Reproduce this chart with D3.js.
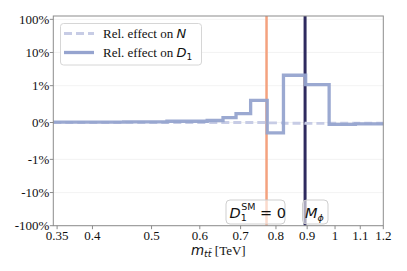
<!DOCTYPE html>
<html>
<head>
<meta charset="utf-8">
<script src="https://cdn.jsdelivr.net/npm/d3@7"></script>
<style>
  body { margin: 0; background: #fff; }
  svg { display: block; }
</style>
</head>
<body>
<div id="chart"></div>
<script>
// bin edges of m_tt (TeV) and relative effects (%) per bin
const binEdges = [0.345, 0.45, 0.53, 0.617, 0.655, 0.688, 0.727, 0.774, 0.823, 0.895, 0.978, 1.08, 1.2];
const effectD1 = [0.01, 0.02, 0.035, 0.055, 0.13, 0.24, 0.6, -0.28, 2.06, 1.07, -0.05, -0.035];
const effectN = [0.0, 0.0, 0.0, 0.0, 0.0, 0.0, 0.0, -0.01, -0.02, -0.025, -0.02, -0.02];
const xTicks = [0.35, 0.4, 0.5, 0.6, 0.7, 0.8, 0.9, 1, 1.1, 1.2];
const xTickLabels = ["0.35", "0.4", "0.5", "0.6", "0.7", "0.8", "0.9", "1", "1.1", "1.2"];
const yTicks = [-100, -10, -1, 0, 1, 10, 100];
const yTickLabels = ["-100%", "-10%", "-1%", "0%", "1%", "10%", "100%"];
const d1ZeroMass = 0.772;
const mPhi = 0.893;

(function() {
  const W = 407, H = 271;
  const margin = {top: 16, right: 23.7, bottom: 45.3, left: 53.3},
        width = W - margin.left - margin.right,
        height = H - margin.top - margin.bottom;
  const serif = '"Liberation Serif", "Times New Roman", serif';

  // matplotlib-like symlog, linthresh 1, linscale 1
  const linAdj = 1 / (1 - 1 / 10);
  const symlog = v => {
    const a = Math.abs(v);
    const t = a <= 1 ? a * linAdj : linAdj + Math.log10(a);
    return v < 0 ? -t : t;
  };

  const x = d3.scaleLog().domain([0.345, 1.2]).range([0, width]);
  const yLin = d3.scaleLinear().domain([symlog(-100), symlog(126)]).range([height, 0]);
  const y = v => yLin(symlog(v));

  const svg = d3.select('#chart').append('svg')
    .attr('width', W).attr('height', H);
  const g = svg.append('g')
    .attr('transform', `translate(${margin.left},${margin.top})`);

  // faint grid
  g.selectAll('.grid').data(yTicks).enter().append('line')
    .attr('x1', 0).attr('x2', width)
    .attr('y1', d => y(d)).attr('y2', d => y(d))
    .attr('stroke', '#f0f0f0').attr('stroke-width', 0.8);

  // step paths
  const stepPoints = vals => {
    const pts = [];
    vals.forEach((v, i) => {
      pts.push([binEdges[i], v]);
      pts.push([binEdges[i + 1], v]);
    });
    return pts;
  };
  const line = d3.line().x(d => x(d[0])).y(d => y(d[1]));

  // vertical reference lines
  g.append('line')
    .attr('x1', x(d1ZeroMass)).attr('x2', x(d1ZeroMass))
    .attr('y1', 0).attr('y2', height)
    .attr('stroke', '#f4a27f').attr('stroke-width', 2.5);
  g.append('line')
    .attr('x1', x(mPhi)).attr('x2', x(mPhi))
    .attr('y1', 0).attr('y2', height)
    .attr('stroke', '#2e2a5f').attr('stroke-width', 3);

  g.append('path')
    .attr('d', line(stepPoints(effectN)))
    .attr('fill', 'none')
    .attr('stroke', '#c7cce5')
    .attr('stroke-width', 2.8)
    .attr('stroke-dasharray', '8,4');

  g.append('path')
    .attr('d', line(stepPoints(effectD1)))
    .attr('fill', 'none')
    .attr('stroke', '#96a4cf')
    .attr('stroke-width', 3.3)
    .attr('stroke-opacity', 0.95);

  // frame
  g.append('rect')
    .attr('x', 0).attr('y', 0).attr('width', width).attr('height', height)
    .attr('fill', 'none').attr('stroke', '#8c8c8c').attr('stroke-width', 1);

  // x ticks
  xTicks.forEach((t, i) => {
    g.append('line')
      .attr('x1', x(t)).attr('x2', x(t))
      .attr('y1', height).attr('y2', height + 3.5)
      .attr('stroke', '#8c8c8c');
    g.append('text')
      .attr('x', x(t)).attr('y', height + 14)
      .attr('text-anchor', 'middle')
      .style('font-family', serif).style('font-size', '13px').style('fill', '#111')
      .text(xTickLabels[i]);
  });

  // y ticks
  yTicks.forEach((t, i) => {
    g.append('line')
      .attr('x1', -3.5).attr('x2', 0)
      .attr('y1', y(t)).attr('y2', y(t))
      .attr('stroke', '#8c8c8c');
    g.append('text')
      .attr('x', -4).attr('y', y(t) + 4.5)
      .attr('text-anchor', 'end')
      .style('font-family', serif).style('font-size', '13px').style('fill', '#111')
      .text(yTickLabels[i]);
  });

  // x label
  const xl = svg.append('text')
    .attr('x', margin.left + width / 2).attr('y', 254.5)
    .attr('text-anchor', 'middle').style('fill', '#111');
  xl.append('tspan')
    .style('font-family', 'DejaVu Sans').style('font-style', 'italic').style('font-size', '13.5px')
    .text('m');
  xl.append('tspan')
    .style('font-family', 'DejaVu Sans').style('font-style', 'italic').style('font-size', '9.5px')
    .attr('dy', 2.5).text('tt\u0304');
  xl.append('tspan')
    .style('font-family', serif).style('font-size', '13px')
    .attr('dy', -2.5).text(' [TeV]');

  // legend
  const lg = svg.append('g');
  lg.append('rect')
    .attr('x', 60.5).attr('y', 23.5).attr('width', 141).attr('height', 41.5)
    .attr('rx', 3).attr('fill', '#fff').attr('fill-opacity', 0.85)
    .attr('stroke', '#d6d6d6').attr('stroke-width', 1);
  lg.append('line')
    .attr('x1', 64).attr('x2', 94).attr('y1', 33.5).attr('y2', 33.5)
    .attr('stroke', '#c7cce5').attr('stroke-width', 2.8).attr('stroke-dasharray', '8,4');
  lg.append('line')
    .attr('x1', 64).attr('x2', 94).attr('y1', 52.5).attr('y2', 52.5)
    .attr('stroke', '#96a4cf').attr('stroke-width', 3.3);
  const t1 = lg.append('text').attr('x', 103).attr('y', 38)
    .style('font-family', serif).style('font-size', '13px').style('fill', '#111');
  t1.append('tspan').text('Rel. effect on ');
  t1.append('tspan').style('font-family', 'DejaVu Sans').style('font-style', 'italic').text('N');
  const t2 = lg.append('text').attr('x', 103).attr('y', 57)
    .style('font-family', serif).style('font-size', '13px').style('fill', '#111');
  t2.append('tspan').text('Rel. effect on ');
  t2.append('tspan').style('font-family', 'DejaVu Sans').style('font-style', 'italic').text('D');
  t2.append('tspan').style('font-family', 'DejaVu Sans').style('font-size', '9px').attr('dy', 3).text('1');

  // annotation boxes
  const ann = svg.append('g');
  ann.append('rect')
    .attr('x', 226).attr('y', 200).attr('width', 59).attr('height', 24)
    .attr('rx', 4).attr('fill', '#fff').attr('fill-opacity', 0.6)
    .attr('stroke', '#cfcfcf');
  const a1 = ann.append('text').attr('x', 229.5).attr('y', 217.5)
    .style('font-family', 'DejaVu Sans').style('font-size', '14.5px').style('fill', '#111');
  a1.append('tspan').style('font-style', 'italic').text('D');
  a1.append('tspan').style('font-size', '9.5px').attr('dy', 3.5).text('1');
  a1.append('tspan').style('font-size', '9.5px').attr('dx', -5.5).attr('dy', -11).text('SM');
  a1.append('tspan').attr('dy', 7.5).text(' = 0');

  ann.append('rect')
    .attr('x', 302.5).attr('y', 200).attr('width', 25.5).attr('height', 24)
    .attr('rx', 4).attr('fill', '#fff').attr('fill-opacity', 0.6)
    .attr('stroke', '#cfcfcf');
  const a2 = ann.append('text').attr('x', 305).attr('y', 217.5)
    .style('font-family', 'DejaVu Sans').style('font-size', '14.5px').style('fill', '#111');
  a2.append('tspan').style('font-style', 'italic').text('M');
  a2.append('tspan').style('font-style', 'italic').style('font-size', '9.5px').attr('dy', 3.5).text('\u03d5');
})();
</script>
</body>
</html>
